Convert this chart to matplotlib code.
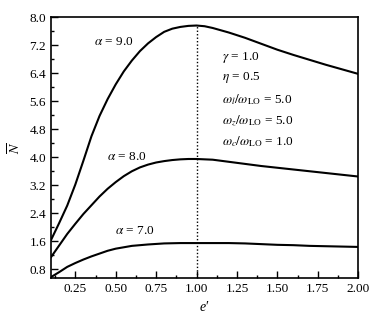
import numpy as np
import matplotlib
matplotlib.use('Agg')
import matplotlib.pyplot as plt
from matplotlib.ticker import MultipleLocator

plt.rcParams['font.family'] = 'serif'
plt.rcParams['font.serif'] = ['Liberation Serif', 'DejaVu Serif']
plt.rcParams['mathtext.fontset'] = 'stix'

# e' values and N-bar for the three alpha values
e9 = [0.10, 0.15, 0.20, 0.25, 0.30, 0.35, 0.40, 0.45, 0.50, 0.55, 0.60, 0.65,
      0.70, 0.75, 0.80, 0.85, 0.90, 0.95, 1.00, 1.05, 1.10, 1.20, 1.30, 1.40,
      1.50, 1.60, 1.70, 1.80, 1.90, 2.00]
n9 = [1.64, 2.12, 2.62, 3.22, 3.90, 4.60, 5.18, 5.66, 6.08, 6.45, 6.76, 7.03,
      7.25, 7.43, 7.58, 7.67, 7.72, 7.75, 7.76, 7.74, 7.69, 7.56, 7.41, 7.24,
      7.07, 6.92, 6.78, 6.64, 6.51, 6.38]

e8 = [0.10, 0.15, 0.20, 0.25, 0.30, 0.35, 0.40, 0.45, 0.50, 0.55, 0.60, 0.65,
      0.70, 0.75, 0.80, 0.85, 0.90, 0.95, 1.00, 1.10, 1.20, 1.30, 1.40, 1.50,
      1.60, 1.70, 1.80, 1.90, 2.00]
n8 = [1.15, 1.48, 1.81, 2.10, 2.38, 2.63, 2.88, 3.10, 3.29, 3.46, 3.60, 3.71,
      3.79, 3.85, 3.89, 3.92, 3.94, 3.95, 3.95, 3.93, 3.87, 3.81, 3.75, 3.70,
      3.65, 3.60, 3.55, 3.50, 3.45]

e7 = [0.10, 0.15, 0.20, 0.25, 0.30, 0.35, 0.40, 0.45, 0.50, 0.55, 0.60, 0.70,
      0.80, 0.90, 1.00, 1.10, 1.20, 1.30, 1.40, 1.50, 1.60, 1.70, 1.80, 1.90,
      2.00]
n7 = [0.58, 0.72, 0.87, 0.98, 1.08, 1.17, 1.25, 1.33, 1.39, 1.43, 1.47, 1.51,
      1.54, 1.55, 1.55, 1.55, 1.55, 1.54, 1.52, 1.50, 1.49, 1.47, 1.46, 1.45,
      1.44]

curve_labels = [r'$\alpha$ = 9.0', r'$\alpha$ = 8.0', r'$\alpha$ = 7.0']
params = [r'$\gamma$ = 1.0', r'$\eta$ = 0.5',
          r'$\omega_l/\omega_{\rm LO}$ = 5.0',
          r'$\omega_z/\omega_{\rm LO}$ = 5.0',
          r'$\omega_c/\omega_{\rm LO}$ = 1.0']
xticks = [0.25, 0.50, 0.75, 1.00, 1.25, 1.50, 1.75, 2.00]
yticks = [0.8, 1.6, 2.4, 3.2, 4.0, 4.8, 5.6, 6.4, 7.2, 8.0]

fig = plt.figure(figsize=(3.81, 3.23), dpi=100)
ax = fig.add_axes([0.134, 0.139, 0.806, 0.808])

for e, n in [(e9, n9), (e8, n8), (e7, n7)]:
    ax.plot(e, n, color='black', lw=1.5)

ax.plot([1.0, 1.0], [0.55, max(n9)], color='black', lw=1.0, ls=(0, (1, 1.5)))

ax.text(0.49, 7.29, curve_labels[0], fontsize=9.5, ha='center', va='center')
ax.text(0.57, 4.01, curve_labels[1], fontsize=9.5, ha='center', va='center')
ax.text(0.62, 1.89, curve_labels[2], fontsize=9.5, ha='center', va='center')

ytxt = [6.86, 6.29, 5.64, 5.04, 4.44]
for s, yy in zip(params, ytxt):
    ax.text(1.16, yy, s, fontsize=9.5, ha='left', va='center')

ax.set_xlim(0.1, 2.0)
ax.set_ylim(0.55, 8.0)
ax.set_xticks(xticks)
ax.set_yticks(yticks)
ax.set_xticklabels(['%.2f' % t for t in xticks])
ax.set_yticklabels(['%.1f' % t for t in yticks])
ax.xaxis.set_minor_locator(MultipleLocator(0.125))
ax.yaxis.set_minor_locator(MultipleLocator(0.4))
ax.tick_params(which='both', direction='in', labelsize=9.5, width=1.0)
ax.tick_params(which='major', length=5)
ax.tick_params(which='minor', length=2.5)
for sp in ax.spines.values():
    sp.set_linewidth(1.2)

ax.set_xlabel('e\u2032', fontsize=10, style='italic')
ax.set_ylabel(r'$\overline{N}$', fontsize=10)

fig.savefig('out.png', dpi=100)
